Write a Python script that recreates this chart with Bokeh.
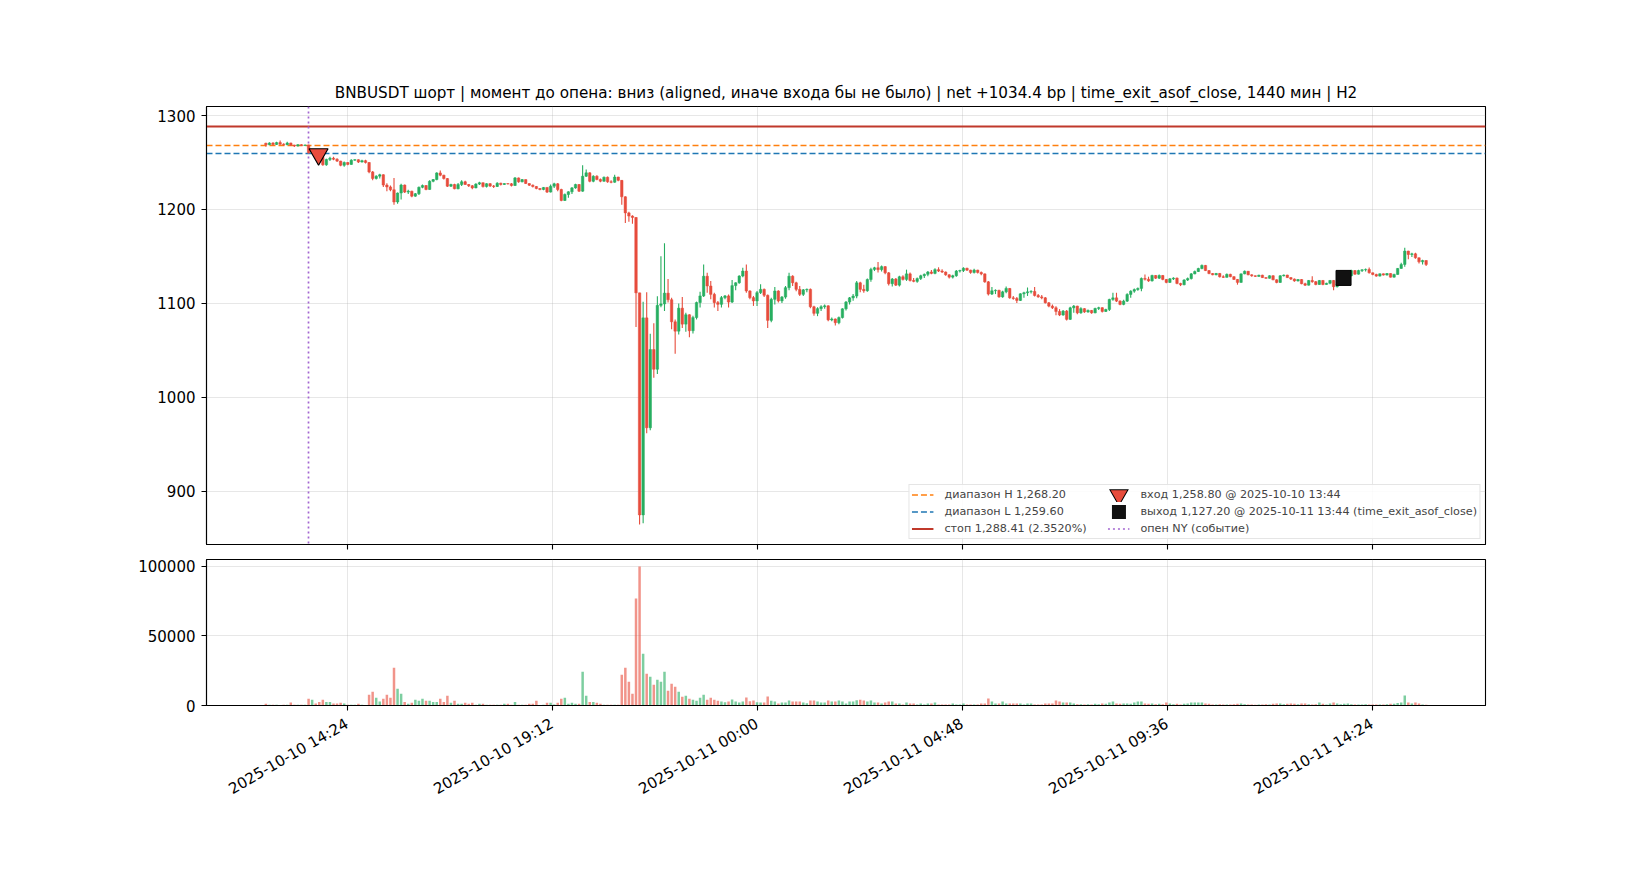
import math
import pandas as pd
from bokeh.plotting import figure
from bokeh.models import (ColumnDataSource, Range1d, FixedTicker, Legend, LegendItem,
                          PrintfTickFormatter)
from bokeh.layouts import column
from bokeh.embed import file_html
from bokeh.resources import INLINE

# ---------------- data ----------------
START = "2025-10-10 12:30"          # first 5-minute candle
FIRST_OPEN = 1270.5

close = [
 1268.8,1270.8,1269.2,1271.2,1269.5,1268.8,1270.8,1268.5,1267.6,1268.9,
 1268.0,1268.6,1260.5,1263.0,1258.8,1255.5,1247.5,1253.3,1254.5,1253.5,
 1251.5,1247.0,1250.0,1248.0,1252.5,1253.0,1250.5,1252.0,1250.0,1240.0,
 1233.0,1235.5,1237.0,1226.0,1224.0,1221.0,1208.0,1217.5,1226.0,1218.5,
 1219.5,1214.2,1216.8,1223.6,1225.5,1221.3,1230.0,1231.8,1238.9,1236.5,
 1232.9,1224.8,1226.6,1222.0,1226.5,1229.5,1226.6,1225.2,1223.0,1227.0,
 1228.5,1224.4,1227.5,1225.0,1224.5,1228.0,1226.6,1227.6,1227.3,1225.5,
 1233.6,1229.4,1231.8,1227.6,1225.9,1224.5,1222.3,1221.3,1223.5,1218.5,
 1224.8,1227.3,1221.3,1209.6,1216.0,1218.8,1223.0,1226.6,1219.5,1235.4,
 1239.0,1230.0,1235.4,1232.0,1230.1,1234.3,1229.4,1229.0,1234.5,1231.0,
 1213.5,1196.4,1193.0,1191.5,1111.3,875.0,1084.7,967.7,1051.0,1030.0,
 1098.0,1099.5,1111.0,1104.0,1080.5,1070.5,1095.0,1078.0,1088.0,1071.0,
 1085.0,1101.0,1108.0,1129.0,1118.6,1109.7,1100.9,1099.1,1106.2,1108.0,
 1101.5,1119.0,1122.0,1129.2,1134.5,1113.3,1106.2,1102.7,1111.5,1115.0,
 1108.7,1082.0,1104.4,1113.3,1102.7,1106.8,1116.8,1129.0,1122.0,1115.0,
 1109.7,1114.5,1115.0,1096.5,1089.5,1094.5,1096.5,1097.5,1082.5,1083.5,
 1079.5,1085.0,1094.3,1101.5,1106.0,1107.9,1122.0,1115.0,1113.5,1125.5,
 1136.2,1138.0,1136.0,1139.2,1132.6,1121.0,1126.0,1119.5,1128.4,1125.6,
 1131.5,1124.5,1123.5,1126.5,1129.5,1131.0,1133.5,1132.0,1136.0,1134.5,
 1133.5,1130.5,1128.0,1129.5,1134.5,1135.0,1137.5,1135.5,1133.0,1135.5,
 1133.0,1131.5,1123.0,1110.0,1113.5,1114.0,1107.0,1112.4,1116.0,1106.0,
 1105.3,1103.2,1110.3,1111.4,1112.4,1112.8,1108.5,1107.0,1106.0,1100.7,
 1097.2,1095.4,1091.5,1087.7,1091.9,1083.1,1095.4,1097.2,1090.0,1094.5,
 1091.0,1092.6,1090.0,1094.7,1095.5,1091.5,1093.6,1104.3,1106.0,1102.5,
 1099.0,1102.5,1109.6,1113.1,1114.8,1116.0,1126.6,1125.8,1124.0,1129.8,
 1126.9,1129.8,1125.6,1122.4,1126.2,1127.0,1121.3,1119.9,1125.0,1126.5,
 1131.5,1134.0,1137.2,1140.5,1135.0,1131.9,1130.5,1132.0,1128.4,1127.8,
 1131.0,1128.5,1125.6,1122.4,1131.5,1134.3,1130.5,1129.5,1128.8,1130.1,
 1127.5,1126.8,1129.5,1125.2,1122.4,1129.5,1130.2,1127.5,1126.0,1124.0,
 1125.5,1121.0,1119.5,1124.5,1123.2,1120.2,1124.5,1120.2,1121.5,1124.5,
 1117.9,1120.2,1123.0,1127.2,1129.5,1135.0,1131.2,1135.0,1135.8,1136.2,
 1132.6,1130.9,1129.1,1131.6,1130.2,1131.9,1128.0,1130.9,1137.3,1141.5,
 1155.7,1152.1,1152.8,1148.6,1144.3,1145.7,1141.5,
]

high = [
 1271.0,1271.5,1271.5,1272.0,1273.5,1270.5,1272.0,1271.0,1269.0,1269.5,
 1269.5,1269.2,1269.0,1264.5,1263.5,1259.5,1256.0,1254.0,1256.0,1256.0,
 1254.5,1252.0,1251.0,1250.5,1253.5,1253.5,1253.5,1253.0,1253.0,1250.5,
 1241.0,1236.5,1238.0,1237.5,1228.0,1225.5,1233.5,1218.0,1227.3,1226.5,
 1221.0,1220.0,1217.5,1224.5,1226.5,1226.0,1231.0,1232.5,1239.5,1241.5,
 1237.0,1233.5,1227.5,1227.3,1228.3,1231.0,1230.5,1227.0,1226.0,1228.0,
 1229.5,1228.8,1228.0,1228.3,1226.0,1229.0,1228.5,1228.0,1228.0,1228.3,
 1234.5,1234.0,1232.5,1232.0,1228.0,1226.5,1225.0,1223.0,1224.0,1223.8,
 1226.5,1228.5,1228.3,1222.0,1217.0,1219.5,1224.0,1227.5,1227.0,1247.1,
 1242.5,1239.5,1236.5,1236.5,1233.0,1235.0,1235.0,1231.0,1237.0,1234.8,
 1231.5,1214.0,1197.5,1194.0,1192.1,1111.3,1101.8,1112.0,1067.7,1079.0,
 1107.6,1150.3,1164.1,1126.0,1106.0,1083.0,1100.0,1107.0,1090.0,1088.5,
 1087.0,1102.0,1112.5,1141.4,1132.7,1123.9,1111.5,1102.7,1108.0,1109.0,
 1109.5,1125.0,1122.5,1130.0,1138.0,1141.4,1114.0,1108.0,1113.3,1120.4,
 1116.0,1109.5,1106.0,1117.5,1114.0,1108.0,1118.6,1132.7,1130.0,1123.0,
 1118.6,1115.5,1116.0,1116.0,1097.5,1096.0,1098.0,1099.0,1098.0,1085.0,
 1084.0,1086.0,1095.0,1102.5,1107.0,1110.0,1124.0,1123.0,1120.0,1126.5,
 1138.0,1139.0,1144.0,1140.5,1140.0,1133.5,1127.0,1127.0,1129.5,1130.0,
 1136.0,1133.0,1127.0,1127.5,1130.5,1132.0,1134.5,1135.5,1137.5,1138.5,
 1136.5,1134.0,1131.0,1130.5,1135.5,1136.0,1138.5,1138.0,1136.0,1137.0,
 1136.0,1134.0,1132.0,1124.0,1117.4,1115.0,1114.5,1113.5,1118.0,1116.5,
 1108.0,1107.0,1111.0,1112.5,1117.0,1114.0,1117.5,1110.0,1109.0,1107.0,
 1101.5,1099.0,1097.0,1094.0,1093.0,1093.0,1096.5,1098.5,1097.5,1096.0,
 1095.0,1093.5,1093.0,1095.5,1096.5,1096.0,1094.5,1105.0,1111.4,1111.4,
 1103.5,1104.0,1111.0,1114.0,1116.0,1117.0,1127.5,1130.8,1128.5,1130.5,
 1130.2,1130.8,1130.2,1126.0,1127.0,1128.0,1127.5,1122.0,1125.8,1127.5,
 1132.5,1135.0,1138.0,1141.5,1141.0,1135.5,1132.5,1132.5,1132.5,1130.0,
 1132.0,1131.5,1129.0,1126.0,1132.0,1135.0,1134.5,1131.0,1129.8,1130.5,
 1130.5,1128.0,1130.0,1130.0,1125.8,1130.0,1130.8,1130.5,1128.0,1126.5,
 1126.0,1126.0,1122.0,1125.0,1129.0,1124.0,1125.0,1125.0,1122.0,1125.0,
 1125.0,1121.0,1124.0,1128.0,1130.5,1136.0,1135.5,1135.8,1136.5,1137.2,
 1138.3,1133.0,1131.5,1132.0,1132.0,1132.5,1132.2,1131.5,1137.8,1143.2,
 1159.2,1156.0,1154.0,1154.0,1149.0,1146.5,1146.0,
]

low = [
 1266.8,1268.5,1268.0,1268.5,1269.0,1268.0,1268.5,1267.5,1266.5,1267.0,
 1267.5,1267.8,1259.5,1259.0,1257.5,1253.5,1246.5,1246.5,1251.5,1252.5,
 1250.5,1246.0,1245.5,1247.0,1247.5,1252.0,1249.5,1250.0,1249.0,1238.5,
 1231.0,1232.0,1233.0,1224.0,1219.5,1219.5,1205.0,1206.0,1210.7,1217.5,
 1216.5,1213.0,1213.5,1215.5,1222.5,1220.5,1221.0,1229.0,1231.0,1235.5,
 1232.0,1224.0,1224.0,1221.5,1221.5,1225.0,1226.0,1224.0,1221.5,1222.5,
 1226.0,1223.5,1223.5,1224.0,1223.0,1224.0,1225.5,1226.0,1226.5,1224.5,
 1225.0,1228.5,1229.0,1227.0,1225.0,1223.5,1221.5,1220.5,1220.5,1217.5,
 1218.0,1223.0,1219.5,1208.9,1209.0,1212.5,1216.5,1222.0,1218.5,1219.0,
 1234.5,1229.0,1229.0,1231.0,1229.0,1229.5,1228.5,1228.0,1228.5,1230.0,
 1205.0,1185.7,1187.0,1184.9,1075.0,864.7,866.0,962.0,965.0,1021.0,
 1025.0,1096.0,1092.0,1101.0,1072.5,1046.4,1067.0,1074.0,1070.0,1064.0,
 1068.0,1083.0,1095.6,1107.0,1111.5,1104.4,1095.6,1092.1,1095.6,1104.5,
 1095.6,1100.5,1114.0,1121.0,1128.0,1111.5,1104.5,1097.4,1097.4,1110.0,
 1107.0,1074.0,1080.0,1099.0,1101.0,1100.5,1105.0,1114.0,1118.6,1113.0,
 1108.0,1108.0,1112.0,1095.0,1087.0,1086.5,1092.0,1094.5,1081.0,1081.0,
 1076.5,1078.0,1084.0,1092.5,1099.0,1103.0,1105.5,1112.0,1111.5,1112.5,
 1123.0,1134.5,1133.0,1134.0,1131.0,1119.0,1118.0,1118.5,1118.0,1124.5,
 1124.0,1123.5,1122.5,1122.0,1125.0,1127.0,1129.0,1131.0,1131.0,1133.5,
 1132.5,1129.5,1126.5,1126.5,1128.5,1133.0,1133.5,1134.5,1131.5,1132.0,
 1132.0,1130.0,1122.0,1108.5,1109.0,1110.0,1106.0,1106.0,1111.0,1105.0,
 1104.0,1100.5,1102.5,1106.0,1108.0,1110.5,1107.5,1106.0,1104.5,1100.0,
 1096.0,1094.0,1087.5,1086.6,1087.0,1082.0,1082.5,1090.0,1088.5,1089.0,
 1090.0,1090.0,1089.0,1089.5,1093.0,1090.5,1091.0,1092.0,1103.0,1101.5,
 1098.0,1098.0,1101.5,1106.0,1111.4,1113.5,1113.0,1124.5,1123.0,1123.5,
 1126.0,1126.0,1124.8,1121.5,1121.8,1125.0,1120.5,1118.5,1119.5,1124.0,
 1125.5,1131.0,1133.5,1136.5,1134.5,1131.0,1130.0,1130.0,1127.5,1127.0,
 1127.5,1128.0,1125.0,1120.0,1122.0,1131.0,1130.0,1128.5,1128.2,1128.5,
 1127.0,1126.2,1126.5,1124.8,1121.5,1122.0,1128.8,1127.0,1125.0,1123.0,
 1123.5,1120.5,1118.5,1119.0,1122.0,1119.5,1119.8,1119.5,1119.8,1120.5,
 1114.0,1117.0,1119.5,1122.5,1126.5,1129.0,1130.5,1130.8,1133.5,1134.0,
 1132.0,1130.0,1128.5,1128.8,1129.8,1129.8,1127.5,1127.5,1130.5,1137.0,
 1139.0,1147.0,1149.5,1147.5,1142.5,1141.5,1140.0,
]

volume = [
 1200,500,500,500,300,500,500,2200,500,500,
 500,500,4800,4100,1400,2600,4100,2600,2600,1400,
 1400,1900,1400,600,600,500,1200,500,300,7700,
 9800,5500,2900,4800,7700,5500,27100,12000,8400,2600,
 1200,1900,4100,3400,4800,3400,3400,2600,2600,4800,
 2600,7000,1900,3400,1200,1200,1900,1200,1900,500,
 1200,1200,600,600,600,600,600,1200,1200,600,
 2600,600,600,600,1200,1200,3400,300,600,1900,
 1900,800,1900,4800,5500,1200,1900,1200,1200,24300,
 7000,2600,2600,1900,1200,600,600,600,600,600,
 22100,27100,17000,8400,76900,99900,37200,22800,20700,14900,
 18500,17000,24300,10600,15600,13400,9800,6200,7000,4800,
 4100,3400,5500,7700,4100,5500,4100,3400,2900,2400,
 2900,4300,2900,2200,2900,5800,3100,3600,2400,2200,
 2200,6500,3400,2900,1400,2200,2200,3600,2900,2900,
 2900,2200,1700,3600,3600,2900,2200,2200,3600,2900,
 2900,3600,2900,1400,2900,2900,3800,4100,3600,2900,
 3600,2200,2200,1400,2200,2900,2900,1400,1400,700,
 2200,1400,1400,700,1400,700,1400,1400,2200,700,
 700,700,700,1400,700,700,1400,700,700,700,
 700,1400,1400,5000,2900,1400,1400,2900,1400,1400,
 1400,1400,1400,700,1400,1400,700,700,700,1400,
 1400,1400,3600,2900,2200,2200,2200,1400,900,900,
 700,900,700,1200,900,1400,1200,2200,2900,1400,
 1200,1400,1400,1200,2200,2900,2900,1400,1200,1400,
 900,1200,900,2200,1400,900,1200,700,1200,1400,
 2200,2200,2200,2200,1400,1200,700,700,900,700,
 700,700,900,1200,1400,900,700,700,500,700,
 700,900,700,1200,1400,1400,900,1200,1400,1200,
 900,1400,1400,900,700,900,2200,1200,700,1400,
 2200,1400,900,1200,1400,900,700,700,700,900,
 700,700,700,700,700,900,1200,1200,1800,2200,
 7200,2200,1400,2200,1400,700,500,
]

RANGE_H = 1268.20
RANGE_L = 1259.60
STOP = 1288.41
STOP_PCT = 2.3520
ENTRY_TIME, ENTRY_PRICE = "2025-10-10 13:44", 1258.80
EXIT_TIME, EXIT_PRICE = "2025-10-11 13:44", 1127.20
NY_OPEN = "2025-10-10 13:30"

price_ticks = [900, 1000, 1100, 1200, 1300]
volume_ticks = [0, 50000, 100000]
time_ticks = ["2025-10-10 14:24", "2025-10-10 19:12", "2025-10-11 00:00",
              "2025-10-11 04:48", "2025-10-11 09:36", "2025-10-11 14:24"]

TITLE = ("BNBUSDT шорт | момент до опена: вниз (aligned, иначе входа бы не было) | "
         "net +1034.4 bp | time_exit_asof_close, 1440 мин | H2")

# ---------------- styling ----------------
FONT = "DejaVu Sans"
GREEN = "#27ae60"
RED = "#e74c3c"
ORANGE = "#ff7f0e"
BLUE = "#1f77b4"
STOPC = "#c0392b"
PURPLE = "#a366d1"
TICK_FS = "15px"
W = 1642

t = pd.date_range(START, periods=len(close), freq="5min")
opens = [FIRST_OPEN] + close[:-1]
colors = [GREEN if c >= o else RED for o, c in zip(opens, close)]
src = ColumnDataSource(dict(
    t=t, o=opens, c=close, h=high, l=low,
    top=[max(o, c) for o, c in zip(opens, close)],
    bot=[min(o, c) for o, c in zip(opens, close)],
    color=colors, vol=volume))

BODY_W = 3.5 * 60 * 1000  # ms

half = pd.Timedelta(minutes=1.75)
x0, x1 = t[0] - half, t[-1] + half
xpad = (x1 - x0) * 0.05
xr = Range1d((x0 - xpad).to_pydatetime(), (x1 + xpad).to_pydatetime())

lo = min(low + [RANGE_L, STOP])
hi = max(high + [RANGE_H, STOP])
ypad = (hi - lo) * 0.05
yr = Range1d(lo - ypad, hi + ypad)

tick_ms = [pd.Timestamp(s).value / 1e6 for s in time_ticks]
overrides = {ms: s for ms, s in zip(tick_ms, time_ticks)}


def style(p):
    p.outline_line_color = "black"
    p.outline_line_width = 1.1
    p.background_fill_color = "white"
    p.border_fill_color = "white"
    for ax in p.xaxis + p.yaxis:
        ax.axis_line_color = "black"
        ax.axis_line_width = 1.1
        ax.major_tick_line_color = "black"
        ax.major_tick_line_width = 1.1
        ax.major_tick_out = 5
        ax.major_tick_in = 0
        ax.minor_tick_line_color = None
        ax.major_label_text_font = FONT
        ax.major_label_text_font_size = TICK_FS
        ax.major_label_text_color = "black"
        ax.major_label_standoff = 6
    p.xgrid.grid_line_color = "#b0b0b0"
    p.xgrid.grid_line_alpha = 0.3
    p.ygrid.grid_line_color = "#b0b0b0"
    p.ygrid.grid_line_alpha = 0.3
    p.xgrid.ticker = FixedTicker(ticks=tick_ms)


# ---------------- price panel ----------------
p1 = figure(width=W, height=551, x_range=xr, y_range=yr, x_axis_type="datetime",
            output_backend="svg", toolbar_location=None,
            min_border_left=206, min_border_right=157, min_border_top=106, min_border_bottom=7)
style(p1)
p1.yaxis.ticker = FixedTicker(ticks=price_ticks)
p1.ygrid.ticker = FixedTicker(ticks=price_ticks)
# shared time axis: tick marks only (labels live on the volume panel)
p1.xaxis.ticker = FixedTicker(ticks=[], minor_ticks=tick_ms)
p1.xaxis.minor_tick_line_color = "black"
p1.xaxis.minor_tick_line_width = 1.1
p1.xaxis.minor_tick_out = 5
p1.xaxis.minor_tick_in = 0

p1.title.text = TITLE
p1.title.align = "center"
p1.title.text_font = FONT
p1.title.text_font_size = "15.2px"
p1.title.text_font_style = "normal"
p1.title.text_color = "black"

p1.hspan(y=[RANGE_H], line_color=ORANGE, line_dash="6 3", line_width=1.7)
p1.hspan(y=[RANGE_L], line_color=BLUE, line_dash="6 3", line_width=1.7)
p1.hspan(y=[STOP], line_color=STOPC, line_width=2)
p1.vspan(x=[pd.Timestamp(NY_OPEN)], line_color=PURPLE, line_dash="2 3", line_width=1.7)

p1.segment(x0="t", y0="h", x1="t", y1="l", line_color="color", line_width=1.1, source=src)
p1.vbar(x="t", width=BODY_W, top="top", bottom="bot", fill_color="color",
        line_color="color", line_width=0.5, source=src)

# legend samples (drawn under the real markers / zero-length, so invisible on the chart)
t0 = [t[0], t[0]]
r_h = p1.line(x=t0, y=[RANGE_H, RANGE_H], line_color=ORANGE, line_dash="6 3", line_width=1.7)
r_l = p1.line(x=t0, y=[RANGE_L, RANGE_L], line_color=BLUE, line_dash="6 3", line_width=1.7)
r_s = p1.line(x=t0, y=[STOP, STOP], line_color=STOPC, line_width=2)
r_n = p1.line(x=t0, y=[RANGE_L, RANGE_L], line_color=PURPLE, line_dash="2 3", line_width=1.7)
ex, ey = [pd.Timestamp(ENTRY_TIME)], [ENTRY_PRICE]
xx, xy = [pd.Timestamp(EXIT_TIME)], [EXIT_PRICE]
r_le_out = p1.scatter(x=ex, y=ey, marker="inverted_triangle", size=0, fill_color="black",
                      line_color="black", line_width=8, line_join="miter")
r_le_in = p1.scatter(x=ex, y=ey, marker="inverted_triangle", size=0, fill_color=RED,
                     line_color=RED, line_width=6, line_join="miter")
r_lx = p1.scatter(x=xx, y=xy, marker="square", size=0, fill_color="#111111",
                  line_color="#111111", line_width=8, line_join="miter")

# real markers
p1.scatter(x=ex, y=ey, marker="inverted_triangle", size=19, fill_color=RED,
           line_color="black", line_width=1.2)
p1.scatter(x=xx, y=xy, marker="square", size=15, fill_color="#111111",
           line_color="black", line_width=1)

legend = Legend(items=[
    LegendItem(label=f"диапазон H {RANGE_H:,.2f}", renderers=[r_h]),
    LegendItem(label=f"диапазон L {RANGE_L:,.2f}", renderers=[r_l]),
    LegendItem(label=f"стоп {STOP:,.2f} ({STOP_PCT:.4f}%)", renderers=[r_s]),
    LegendItem(label=f"вход {ENTRY_PRICE:,.2f} @ {ENTRY_TIME}", renderers=[r_le_out, r_le_in]),
    LegendItem(label=f"выход {EXIT_PRICE:,.2f} @ {EXIT_TIME} (time_exit_asof_close)", renderers=[r_lx]),
    LegendItem(label="опен NY (событие)", renderers=[r_n]),
], location="bottom_right", ncols=2)
legend.label_text_font = FONT
legend.label_text_font_size = "11.2px"
legend.glyph_width = 22
legend.glyph_height = 15
legend.label_height = 15
legend.label_width = 161
legend.label_standoff = 11
legend.spacing = 2
legend.padding = 2
legend.margin = 5
legend.border_line_color = "#cccccc"
legend.border_line_width = 1
legend.background_fill_alpha = 0.85
p1.add_layout(legend)

# ---------------- volume panel ----------------
p2 = figure(width=W, height=314, x_range=xr, y_range=Range1d(0, max(volume) * 1.05),
            x_axis_type="datetime", output_backend="svg", toolbar_location=None,
            min_border_left=206, min_border_right=157, min_border_top=8, min_border_bottom=160)
style(p2)
p2.vbar(x="t", width=BODY_W, top="vol", bottom=0, fill_color="color", fill_alpha=0.6,
        line_color=None, source=src)
p2.xaxis.ticker = FixedTicker(ticks=tick_ms)
p2.yaxis.ticker = FixedTicker(ticks=volume_ticks)
p2.ygrid.ticker = FixedTicker(ticks=volume_ticks)
p2.yaxis.formatter = PrintfTickFormatter(format="%d")
p2.xaxis.major_label_overrides = overrides
p2.xaxis.major_label_orientation = math.pi / 6
p2.xaxis.major_label_standoff = 12

layout = column(p1, p2)
open("out.html", "w").write(file_html(layout, INLINE))
